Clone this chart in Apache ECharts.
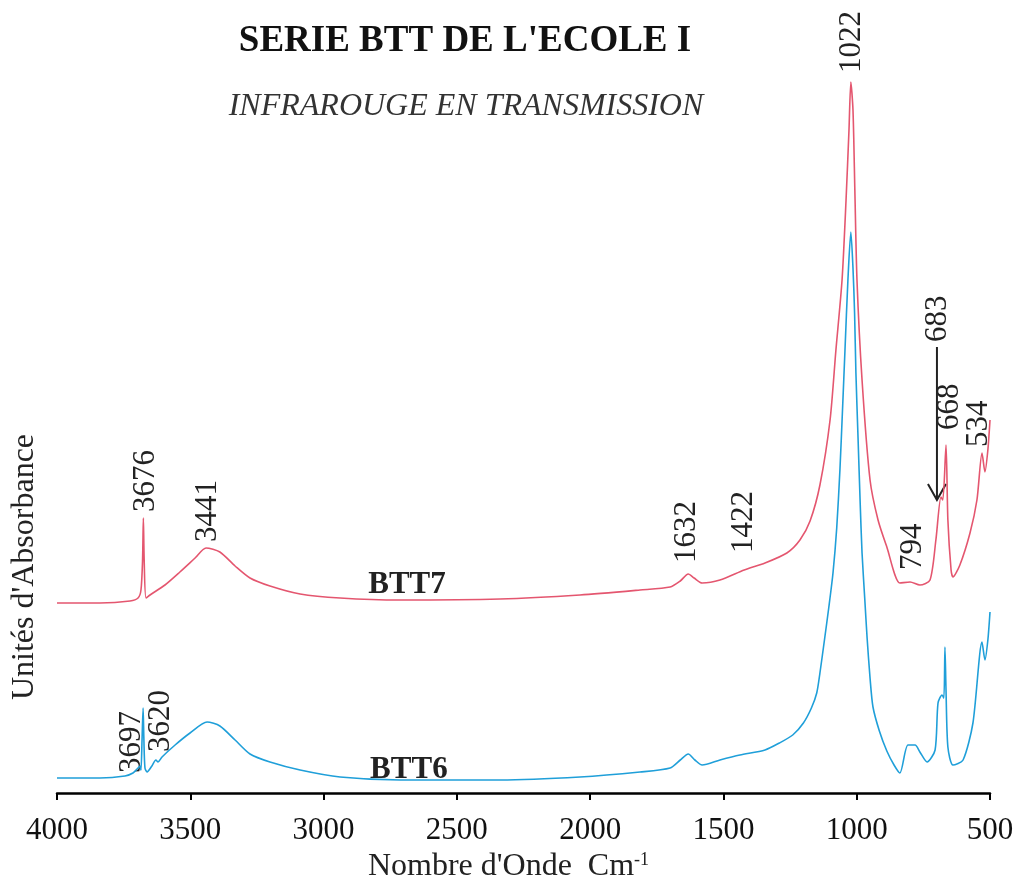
<!DOCTYPE html>
<html>
<head>
<meta charset="utf-8">
<script src="https://cdn.jsdelivr.net/npm/echarts@6/dist/echarts.min.js"></script>
<style>
html,body{margin:0;padding:0;background:#fff;}
#chart{width:1016px;height:879px;}
</style>
</head>
<body>
<div id="chart"></div>
<script>
// spectre BTT7 (nombre d'onde, absorbance)
var btt7Wn = [4000,3839,3726,3696,3685,3679,3676,3673,3666,3651,3595,3539,3482,3441,3389,3332,3276,3201,3088,2938,2713,2338,2038,1813,1700,1662,1632,1610,1580,1513,1422,1344,1262,1213,1175,1138,1100,1078,1055,1040,1029,1022,1014,1007,999,980,950,920,887,838,800,763,725,703,684,677,665,658,646,639,613,575,549,530,519,508,500];
var btt7Abs = [1.90,1.90,1.92,1.95,2.03,2.33,2.75,2.33,1.95,1.98,2.08,2.21,2.35,2.45,2.41,2.27,2.15,2.07,1.99,1.95,1.93,1.94,1.98,2.03,2.06,2.12,2.19,2.15,2.10,2.13,2.23,2.30,2.40,2.53,2.72,3.08,3.73,4.43,5.13,5.93,6.63,7.11,6.83,6.03,5.13,4.13,3.13,2.73,2.46,2.10,2.11,2.08,2.13,2.53,2.96,2.93,3.48,2.73,2.23,2.16,2.28,2.60,2.93,3.40,3.21,3.43,3.73];
// spectre BTT6
var btt6Wn = [4000,3839,3745,3715,3696,3689,3685,3681,3677,3674,3670,3662,3644,3629,3621,3606,3557,3501,3437,3389,3332,3276,3201,3088,2938,2713,2338,2038,1813,1700,1662,1632,1607,1580,1513,1438,1344,1290,1240,1200,1170,1150,1138,1120,1105,1089,1075,1063,1053,1044,1033,1022,1014,1008,1003,995,987,980,970,961,950,939,915,887,860,838,808,781,763,736,706,695,680,673,669,665,658,639,601,564,530,519,508,500];
var btt6Abs = [0.15,0.15,0.17,0.20,0.25,0.27,0.23,0.53,0.85,0.53,0.25,0.21,0.27,0.33,0.31,0.36,0.48,0.60,0.71,0.67,0.53,0.39,0.31,0.23,0.16,0.13,0.13,0.16,0.21,0.25,0.33,0.39,0.33,0.28,0.33,0.38,0.43,0.50,0.58,0.70,0.85,1.00,1.20,1.55,1.85,2.20,2.65,3.23,3.85,4.43,5.13,5.61,5.25,4.80,4.20,3.55,2.90,2.40,1.95,1.55,1.15,0.86,0.62,0.42,0.28,0.20,0.48,0.48,0.41,0.31,0.43,0.90,0.98,0.95,1.46,1.03,0.46,0.28,0.33,0.70,1.51,1.33,1.53,1.81];
// étiquettes des pics : texte, nombre d'onde, absorbance au pied du texte
var peakLabels = [
  ['3676',3665,2.81],['3441',3434,2.51],['1632',1637,2.30],['1422',1423,2.40],
  ['1022',1018,7.20],['794',789,2.23],['668',650,3.63],['534',541,3.46],
  ['683',695,4.51],['3697',3719,0.20],['3620',3610,0.41]
];
var seriesNames = [['BTT7',2687,2.08],['BTT6',2680,0.23]];

function pairs(wn, ab){
  var out = [];
  for (var i = 0; i < wn.length; i++) out.push([wn[i], ab[i]]);
  return out;
}

var FONT = 'Liberation Serif';
var chart = echarts.init(document.getElementById('chart'));
chart.setOption({
  animation: false,
  backgroundColor: '#fff',
  title: [{
    text: "SERIE BTT DE L'ECOLE I",
    left: 460, top: 18, textAlign: 'center',
    textStyle: {fontFamily: FONT, fontSize: 37, fontWeight: 'bold', color: '#111'}
  },{
    text: 'INFRAROUGE EN TRANSMISSION',
    left: 461, top: 86, textAlign: 'center',
    textStyle: {fontFamily: FONT, fontSize: 32, fontStyle: 'italic', fontWeight: 'normal', color: '#333'}
  }],
  grid: {left: 57, right: 26, top: 60, bottom: 86, outerBoundsMode: 'none'},
  xAxis: {
    type: 'value', inverse: true, min: 500, max: 4000, interval: 500,
    name: "Nombre d'Onde  Cm{sup|-1}",
    nameLocation: 'middle', nameGap: 56,
    nameTextStyle: {fontFamily: FONT, fontSize: 32, color: '#222', padding: [0, 30, 0, 0],
      rich: {sup: {fontFamily: FONT, fontSize: 18, color: '#222', padding: [0,0,14,0]}}},
    axisLine: {lineStyle: {color: '#000', width: 2.5}},
    axisTick: {lineStyle: {color: '#000', width: 2}, length: 7},
    axisLabel: {fontFamily: FONT, fontSize: 31, color: '#111', margin: 22,
      formatter: function(v){ return String(v); }},
    splitLine: {show: false}
  },
  yAxis: {
    type: 'value', min: 0, max: 7.33,
    axisLine: {show: false}, axisTick: {show: false},
    axisLabel: {show: false}, splitLine: {show: false}
  },
  series: [{
    name: 'BTT7', type: 'line', data: pairs(btt7Wn, btt7Abs),
    showSymbol: false, smooth: 0.25,
    lineStyle: {color: '#e4566f', width: 1.6}
  },{
    name: 'BTT6', type: 'line', data: pairs(btt6Wn, btt6Abs),
    showSymbol: false, smooth: 0.25,
    lineStyle: {color: '#1f9fd9', width: 1.6}
  }]
});

var g = [];
// titre de l'axe vertical
g.push({type: 'text', x: 25, y: 567, rotation: Math.PI/2,
  style: {text: "Unités d'Absorbance", fontFamily: FONT, fontSize: 32, fill: '#222',
    align: 'center', verticalAlign: 'middle'}});
peakLabels.forEach(function(p){
  var pt = chart.convertToPixel({gridIndex: 0}, [p[1], p[2]]);
  g.push({type: 'text', x: pt[0], y: pt[1], rotation: Math.PI/2,
    style: {text: p[0], fontFamily: FONT, fontSize: 31, fill: '#222',
      align: 'left', verticalAlign: 'middle'}});
});
seriesNames.forEach(function(s){
  var pt = chart.convertToPixel({gridIndex: 0}, [s[1], s[2]]);
  g.push({type: 'text', x: pt[0], y: pt[1],
    style: {text: s[0], fontFamily: FONT, fontSize: 31, fontWeight: 'bold', fill: '#222',
      align: 'center', verticalAlign: 'middle'}});
});
// flèche du pic 683
var a0 = chart.convertToPixel({gridIndex: 0}, [699, 4.46]);
var a1 = chart.convertToPixel({gridIndex: 0}, [699, 2.93]);
g.push({type: 'line', shape: {x1: a0[0], y1: a0[1], x2: a1[0], y2: a1[1]},
  style: {stroke: '#222', lineWidth: 2}});
g.push({type: 'polyline', shape: {points: [[a1[0]-9, a1[1]-16],[a1[0], a1[1]],[a1[0]+9, a1[1]-16]]},
  style: {stroke: '#222', lineWidth: 2, fill: null}});
chart.setOption({graphic: g});
</script>
</body>
</html>
